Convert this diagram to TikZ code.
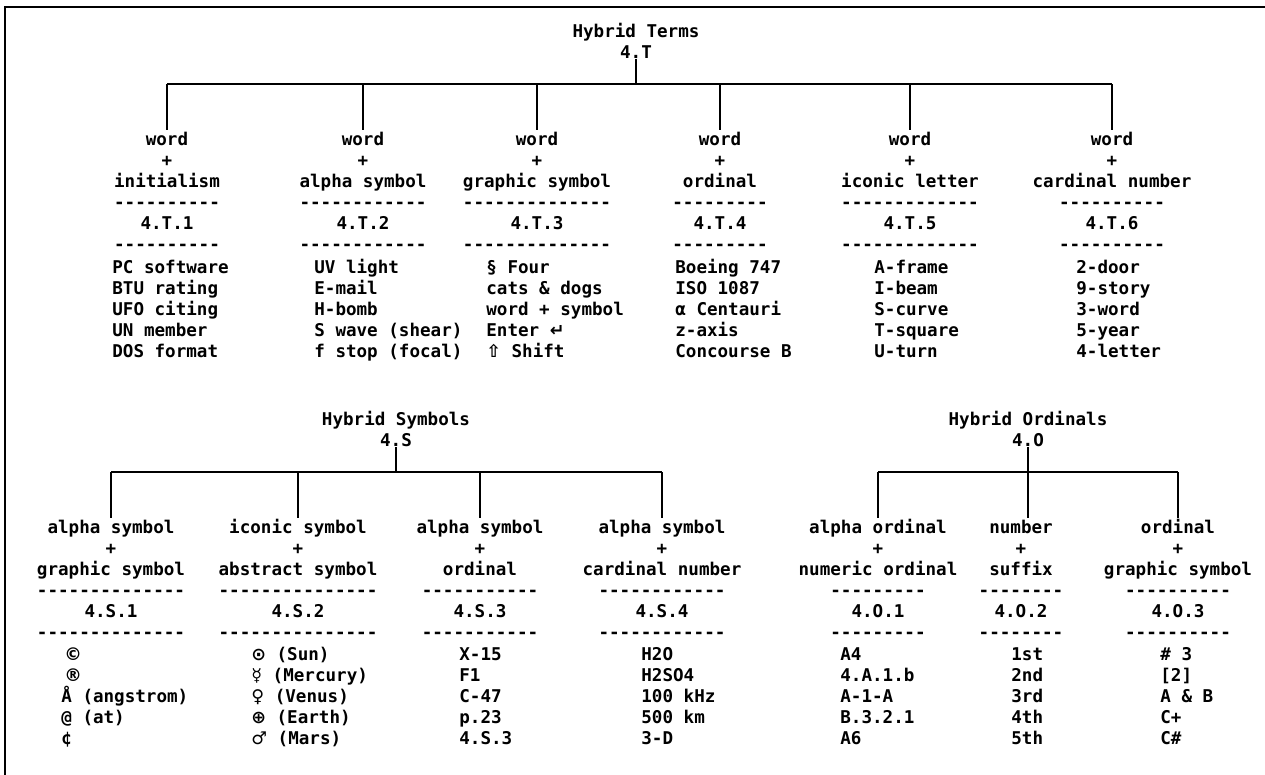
\documentclass[tikz,border=0pt]{standalone}
\usepackage{fontspec}
\setmonofont{DejaVu Sans Mono}
\newfontfamily\symfont{DejaVu Sans}

\begin{document}
\begin{tikzpicture}
\useasboundingbox (0,0) rectangle (25.3,-15.5);
\draw [line width=1.1pt] (0.1,-15.5) -- (0.1,-0.14) -- (25.3,-0.14);

\begin{scope}[
    every node/.style={font=\ttfamily\bfseries\fontsize{10}{12}\selectfont,inner sep=0pt},
    head/.style={align=center,anchor=north},
    items/.style={align=left,anchor=north west}]
    \node (terms) at (12.72, -0.44) [head] {\strut Hybrid Terms\\4.T};

    \node (t1) at (3.34, -2.6) [head] {\strut word\\+\\initialism\\----------\\4.T.1\\----------};
    \node (t2) at (7.26, -2.6) [head] {\strut word\\+\\alpha symbol\\------------\\4.T.2\\------------};
    \node (t3) at (10.74, -2.6) [head] {\strut word\\+\\graphic symbol\\--------------\\4.T.3\\--------------};
    \node (t4) at (14.4, -2.6) [head] {\strut word\\+\\ordinal\\---------\\4.T.4\\---------};
    \node (t5) at (18.2, -2.6) [head] {\strut word\\+\\iconic letter\\-------------\\4.T.5\\-------------};
    \node (t6) at (22.24, -2.6) [head] {\strut word\\+\\cardinal number\\----------\\4.T.6\\----------};

    \node (t1list) at (2.24, -5.16) [items] {\strut PC software\\BTU rating\\UFO citing\\UN member\\DOS format};
    \node (t2list) at (6.28, -5.16) [items] {\strut UV light\\E-mail\\H-bomb\\S wave (shear)\\f stop (focal)};
    \node (t3list) at (9.72, -5.16) [items] {\strut § Four\\cats \& dogs\\word + symbol\\Enter {\symfont\bfseries ↵}\\{\symfont\bfseries ⇧} Shift};
    \node (t4list) at (13.5, -5.16) [items] {\strut Boeing 747\\ISO 1087\\α Centauri\\z-axis\\Concourse B};
    \node (t5list) at (17.48, -5.16) [items] {\strut A-frame\\I-beam\\S-curve\\T-square\\U-turn};
    \node (t6list) at (21.52, -5.16) [items] {\strut 2-door\\9-story\\3-word\\5-year\\4-letter};

    % % symbols
    \node (symbols) at (7.92, -8.2) [head] {\strut Hybrid Symbols\\4.S};

    \node (s1) at (2.22, -10.36) [head] {\strut alpha symbol\\+\\graphic symbol\\--------------\\4.S.1\\--------------};
    \node (s2) at (5.96, -10.36) [head] {\strut iconic symbol\\+\\abstract symbol\\---------------\\4.S.2\\---------------};
    \node (s3) at (9.6, -10.36) [head] {\strut alpha symbol\\+\\ordinal\\-----------\\4.S.3\\-----------};
    \node (s4) at (13.24, -10.36) [head] {\strut alpha symbol\\+\\cardinal number\\------------\\4.S.4\\------------};

    \node (s1list) at (1.22, -12.9) [items] {\strut \,{\symfont\bfseries ©}\\\,{\symfont\bfseries ®}\\Å (angstrom)\\@ (at)\\¢};
    \node (s2list) at (5.02, -12.9) [items] {\strut {\symfont\bfseries ⊙} (Sun)\\{\symfont\bfseries ☿} (Mercury)\\{\symfont\bfseries ♀} (Venus)\\{\symfont\bfseries ⊕} (Earth)\\{\symfont\bfseries ♂} (Mars)};
    \node (s3list) at (9.18, -12.9) [items] {\strut X-15\\F1\\C-47\\p.23\\4.S.3};
    \node (s4list) at (12.82, -12.9) [items] {\strut H2O\\H2SO4\\100 kHz\\500 km\\3-D};

    % % ordinals
    \node (ordinals) at (20.56, -8.2) [head] {\strut Hybrid Ordinals\\4.O};

    \node (o1) at (17.56, -10.36) [head] {\strut alpha ordinal\\+\\numeric ordinal\\---------\\4.O.1\\---------};
    \node (o2) at (20.42, -10.36) [head] {\strut number\\+\\suffix\\--------\\4.O.2\\--------};
    \node (o3) at (23.56, -10.36) [head] {\strut ordinal\\+\\graphic symbol\\----------\\4.O.3\\----------};

    \node (o1list) at (16.8, -12.9) [items] {\strut A4\\4.A.1.b\\A-1-A\\B.3.2.1\\A6};
    \node (o2list) at (20.22, -12.9) [items] {\strut 1st\\2nd\\3rd\\4th\\5th};
    \node (o3list) at (23.2, -12.9) [items] {\strut \# 3\\{[2]}\\A \& B\\C+\\C\#};
\end{scope}

\coordinate (tbar) at (12.76, -1.68);
\coordinate (sbar) at (7.88, -9.44);
\coordinate (obar) at (20.56, -9.44);

\begin{scope}[line width=1.1pt]
    \draw (terms.south) -- (terms.south |- tbar);
    \draw (t1 |- tbar) -- (t6 |- tbar);
    \draw (t1 |- tbar) -- (t1.north);
    \draw (t2 |- tbar) -- (t2.north);
    \draw (t3 |- tbar) -- (t3.north);
    \draw (t4 |- tbar) -- (t4.north);
    \draw (t5 |- tbar) -- (t5.north);
    \draw (t6 |- tbar) -- (t6.north);

    \draw (symbols.south) -- (symbols.south |- sbar);
    \draw (s1 |- sbar) -- (s4 |- sbar);
    \draw (s1 |- sbar) -- (s1.north);
    \draw (s2 |- sbar) -- (s2.north);
    \draw (s3 |- sbar) -- (s3.north);
    \draw (s4 |- sbar) -- (s4.north);

    \draw (ordinals.south) -- (ordinals.south |- o2.north);
    \draw (o1 |- obar) -- (o3 |- obar);
    \draw (o1 |- obar) -- (o1.north);
    \draw (o3 |- obar) -- (o3.north);
\end{scope}
\end{tikzpicture}
\end{document}
